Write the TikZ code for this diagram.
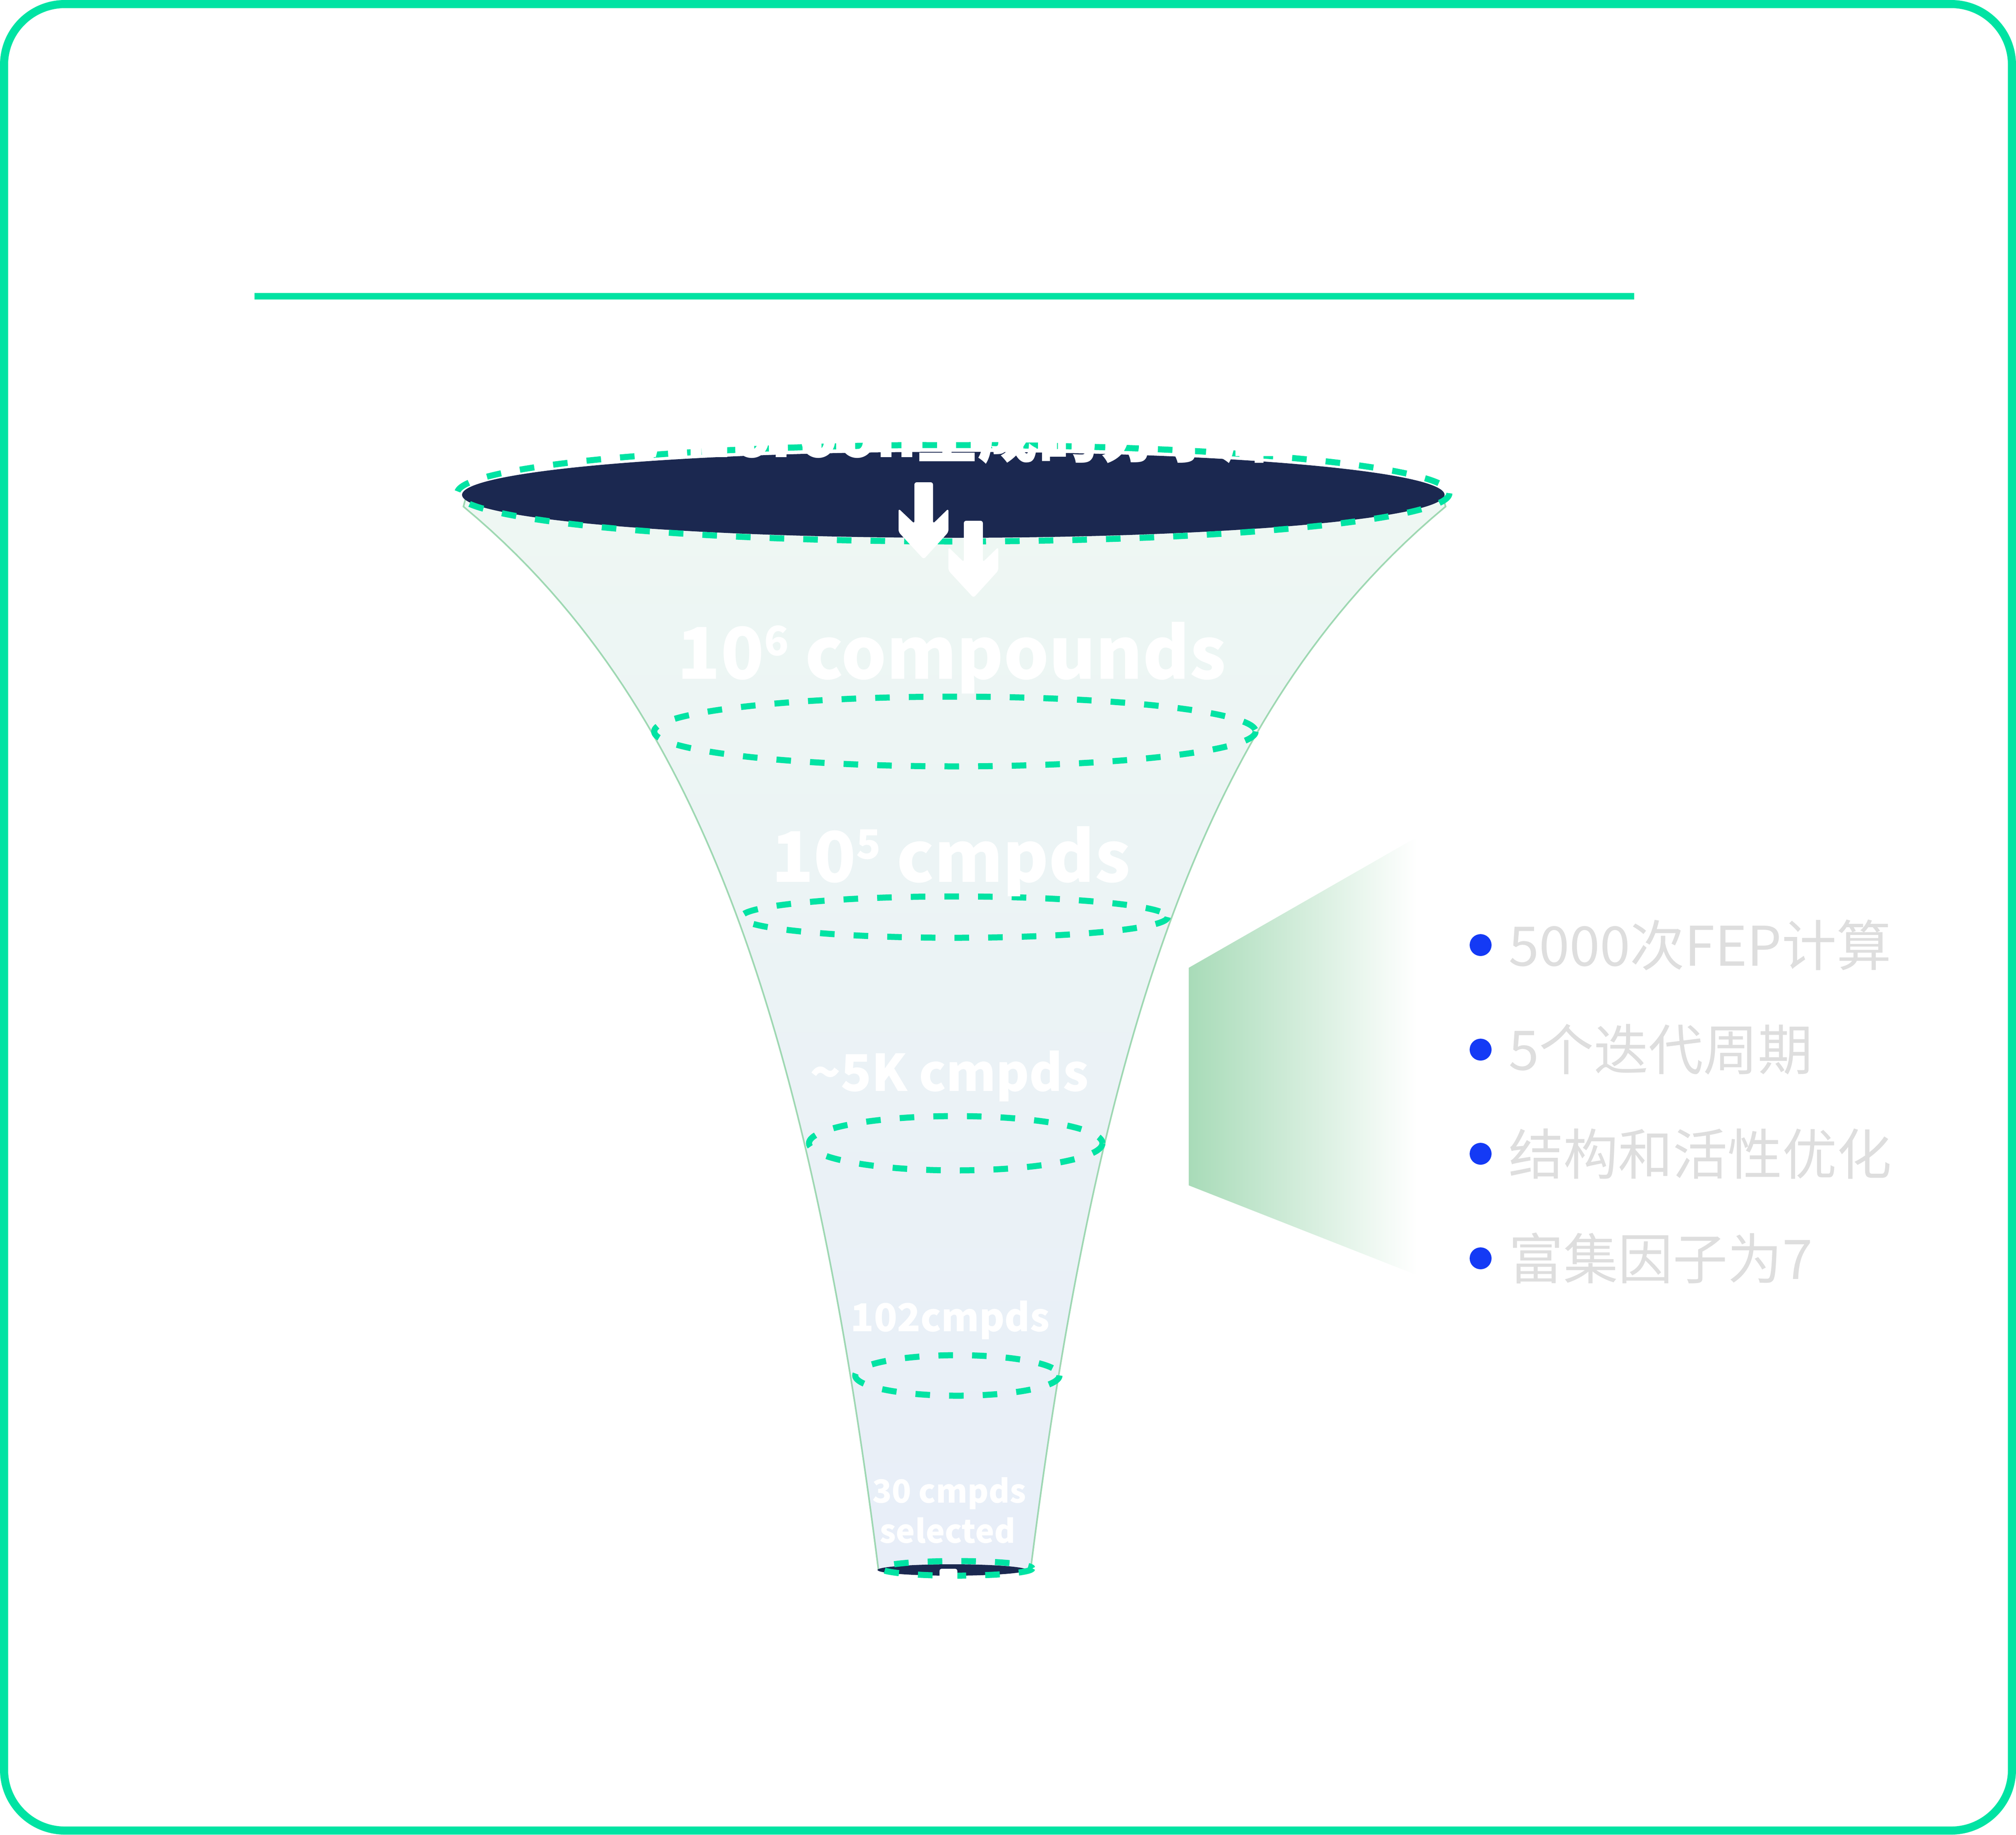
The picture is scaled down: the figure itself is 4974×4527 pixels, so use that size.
\documentclass[tikz,border=0pt]{standalone}
\usepackage{fontspec}
\setmainfont{Noto Sans CJK SC}
\usetikzlibrary{shapes.geometric}
\definecolor{frameg}{RGB}{0,227,163}
\definecolor{navy}{RGB}{27,40,80}
\definecolor{mint}{RGB}{238,247,243}
\definecolor{cyanl}{RGB}{230,245,247}
\definecolor{bluel}{RGB}{232,238,248}
\definecolor{edgeg}{RGB}{130,205,155}
\definecolor{trapg}{RGB}{168,219,184}
\definecolor{dotb}{RGB}{20,58,245}
\definecolor{txtg}{RGB}{222,222,222}
\begin{document}
\begin{tikzpicture}[x=1pt,y=-1pt,
  ring/.style={draw=frameg, line width=15pt, dash pattern=on 36pt off 47pt},
  lbl/.style={text=white, inner sep=0pt, anchor=base},
  item/.style={text=txtg, inner sep=0pt, anchor=west, font=\fontsize{135}{160}\selectfont},
  bul/.style={circle, fill=dotb, minimum size=54pt, inner sep=0pt},
  wharrow/.style={fill=white, rounded corners=6pt},
  edge/.style={draw=edgeg, line width=4pt, opacity=0.75}]
\useasboundingbox (0,0) rectangle (4974,4527);
% frame and rule
\draw[frameg, line width=20pt, rounded corners=150pt] (10,10) rectangle (4964,4517);
\draw[frameg, line width=16pt] (628,731) -- (4032,731);
% side trapezoid
\shade[left color=trapg, middle color=trapg!22, right color=white] (2933,2388) -- (3495,2066) -- (3495,3146) -- (2933,2925) -- cycle;
% funnel body
\shade[top color=mint, middle color=cyanl, bottom color=bluel]
  (1150,1225) -- plot[domain=1250:3873, samples=90, variable=\t] ({2659-1909.6/((\t+10)/1000)}, \t)
  -- plot[domain=3873:1250, samples=90, variable=\t] ({2051+1909.6/((\t+10)/1000)}, \t)
  -- (3560,1225) -- cycle;
\draw[edge] (1150,1225) -- plot[domain=1250:3873, samples=90, variable=\t] ({2659-1909.6/((\t+10)/1000)}, \t);
\draw[edge] (3560,1225) -- plot[domain=1250:3873, samples=90, variable=\t] ({2051+1909.6/((\t+10)/1000)}, \t);
% top opening
\fill[navy] (2352,1221) ellipse [x radius=1212, y radius=106];
\draw[ring] (2352,1217) ellipse [x radius=1224, y radius=119];
\node[lbl, font=\fontsize{150}{180}\selectfont\bfseries] (title) at (2377,1128) {AHoroon生成的分子库};
% arrows
\path[wharrow] (2256,1190) -- (2302,1190) -- (2302,1292) -- (2340,1255) -- (2340,1313) -- (2279,1380) -- (2217,1313) -- (2217,1255) -- (2256,1292) -- cycle;
\path[wharrow] (2378,1285) -- (2425,1285) -- (2425,1387) -- (2463,1350) -- (2463,1408) -- (2402,1475) -- (2340,1408) -- (2340,1350) -- (2378,1387) -- cycle;
% rings
\draw[ring] (2356,1805) ellipse [x radius=742, y radius=86];
\draw[ring] (2355,2263) ellipse [x radius=526, y radius=51];
\draw[ring] (2358,2821) ellipse [x radius=362, y radius=67];
\draw[ring] (2362,3394) ellipse [x radius=252, y radius=50];
% bottom opening
\fill[navy] (2349,3874) ellipse [x radius=184, y radius=14];
\draw[ring] (2360,3870) ellipse [x radius=187, y radius=18];
\fill[white, rounded corners=5pt] (2318,3871) rectangle (2362,3905);
% funnel labels
\node[lbl, font=\fontsize{176}{212}\selectfont\bfseries] (l1) at (2348,1675) {10\raisebox{58pt}{\fontsize{100}{100}\selectfont 6} compounds};
\node[lbl, font=\fontsize{172}{206}\selectfont\bfseries] (l2) at (2346,2176) {10\raisebox{57pt}{\fontsize{100}{100}\selectfont 5} cmpds};
\node[lbl, font=\fontsize{125}{150}\selectfont\bfseries] (l3) at (2342,2692) {\textasciitilde5K cmpds};
\node[lbl, font=\fontsize{95}{114}\selectfont\bfseries] (l4) at (2344,3285) {102cmpds};
\node[lbl, font=\fontsize{79}{95}\selectfont\bfseries] (l5) at (2342,3708) {30 cmpds};
\node[lbl, font=\fontsize{79}{95}\selectfont\bfseries] (l6) at (2338,3807) {selected};
% bullet list
\node[bul] (b1) at (3653,2332) {};
\node[bul] (b2) at (3653,2590) {};
\node[bul] (b3) at (3653,2847) {};
\node[bul] (b4) at (3653,3105) {};
\node[item] (t1) at (3722,2332) {5000次FEP计算};
\node[item] (t2) at (3722,2590) {5个迭代周期};
\node[item] (t3) at (3722,2847) {结构和活性优化};
\node[item] (t4) at (3722,3105) {富集因子为7};
\end{tikzpicture}
\end{document}
